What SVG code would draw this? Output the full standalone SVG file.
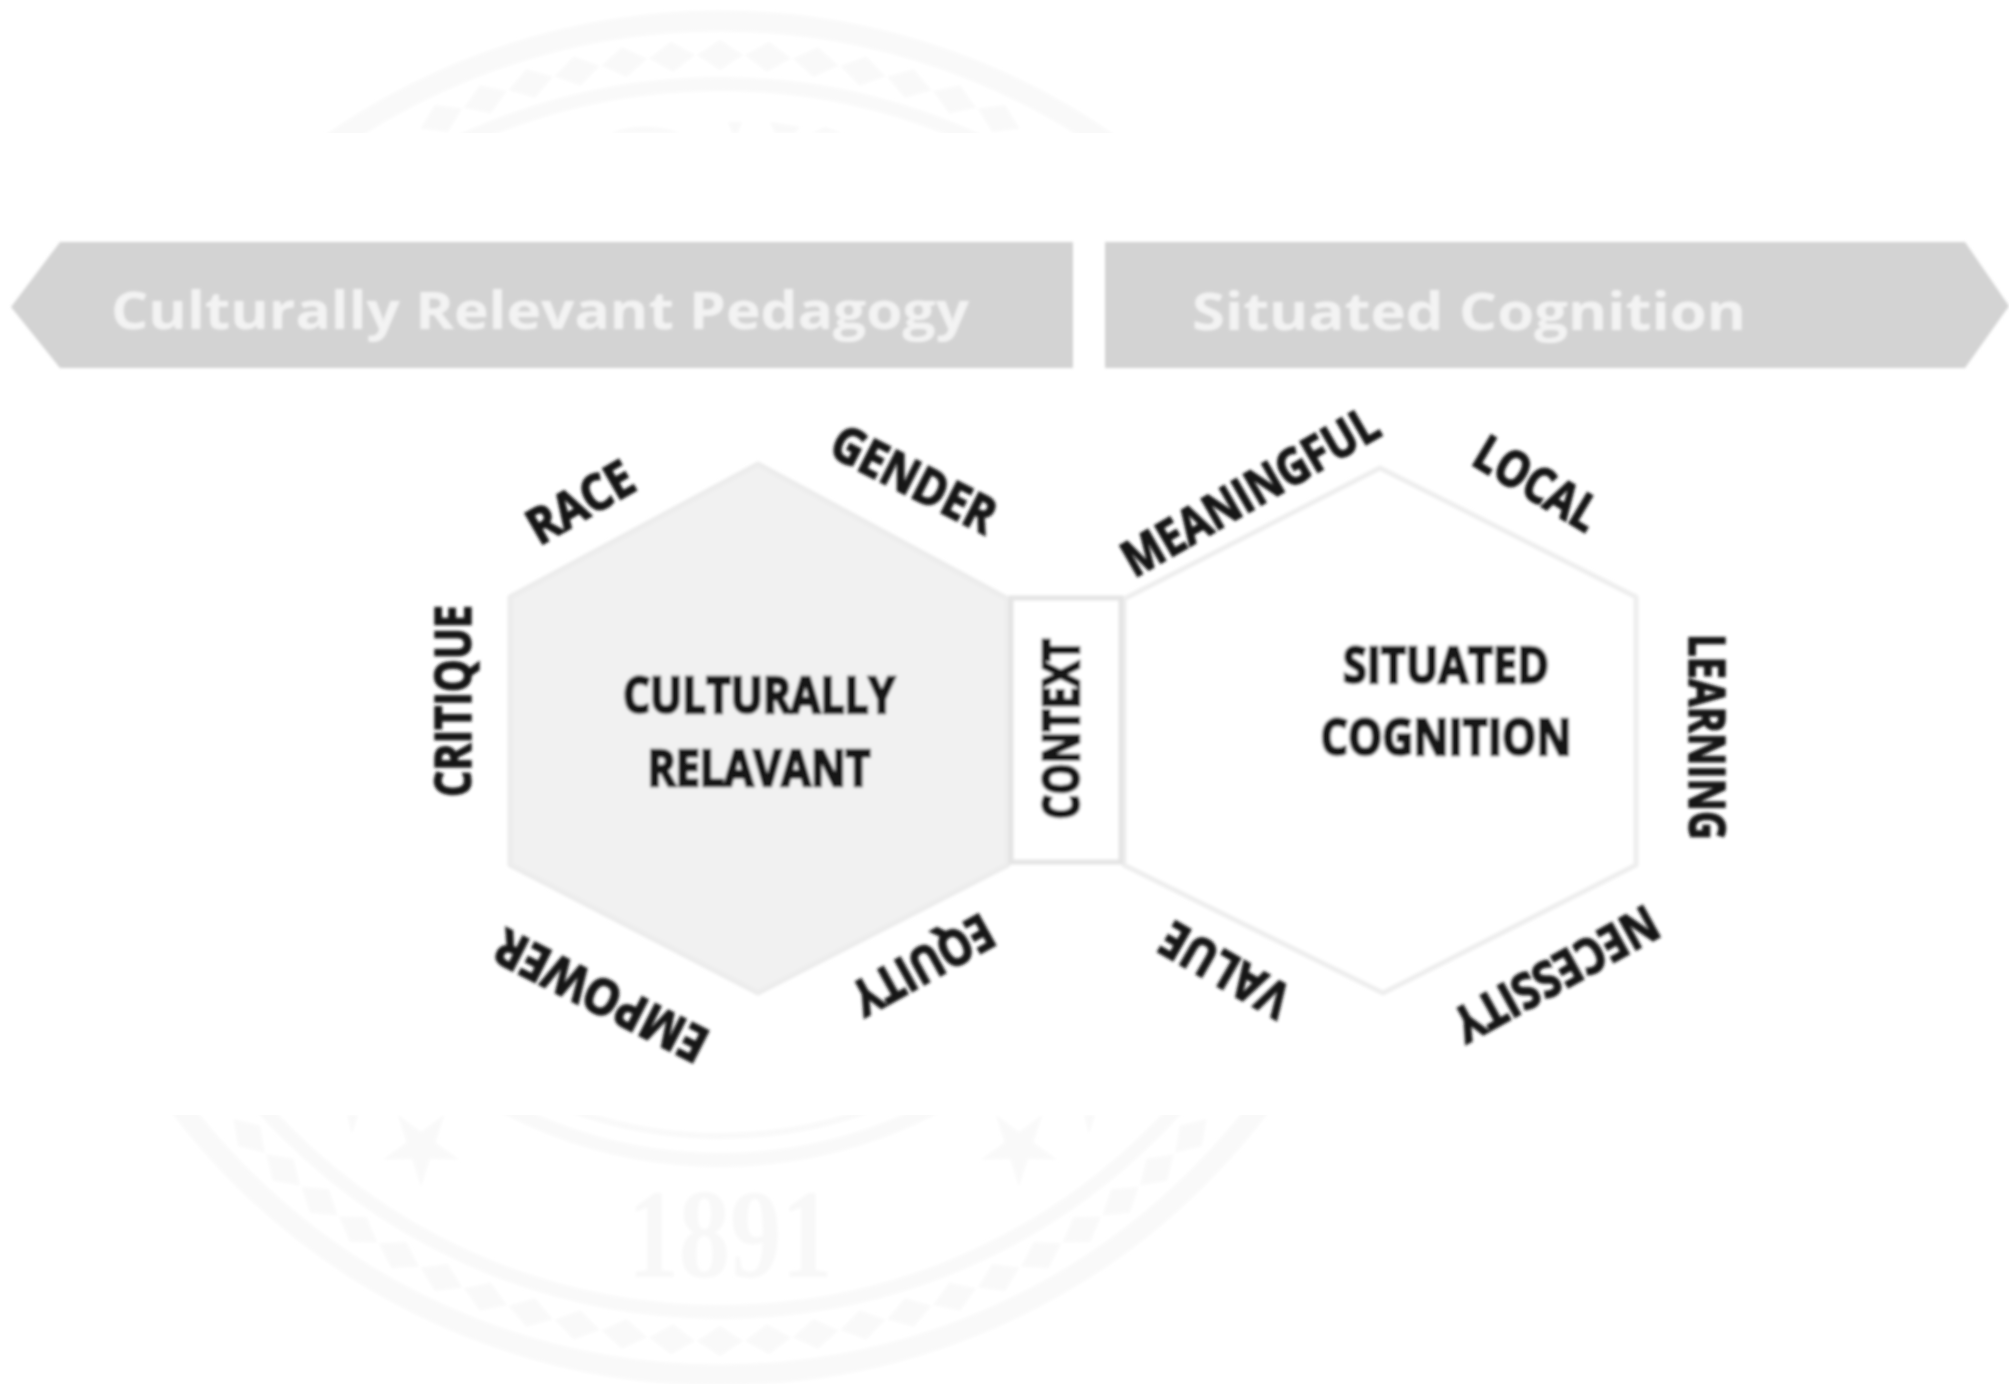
<svg xmlns="http://www.w3.org/2000/svg" xmlns:xlink="http://www.w3.org/1999/xlink" width="2009" height="1384" viewBox="0 0 2009 1384">
<style>
.lbl{font-family:"Open Sans","Liberation Sans",sans-serif;font-weight:700;font-size:50px;fill:#161616;stroke:#161616;stroke-width:1.6px;text-anchor:middle}
.hub{stroke-width:2.6px}
.ban{font-family:"Open Sans","Liberation Sans",sans-serif;font-weight:700;font-size:52px;fill:#f3f3f3}
.ring{fill:none;stroke:#f9f9f9}
.wm{fill:#f9f9f9}
</style>
<defs>
<filter id="soft" x="-10%" y="-10%" width="120%" height="120%"><feGaussianBlur stdDeviation="1.5"/></filter>
<clipPath id="bands"><rect x="0" y="0" width="2009" height="133"/><rect x="0" y="1115" width="2009" height="269"/></clipPath>
<polygon id="d" points="720,40 743,55 720,70 697,55"/>
<polygon id="star" points="0,40 8.8,12.1 38,12.4 14.3,-4.6 23.5,-32.4 0,-15 -23.5,-32.4 -14.3,-4.6 -38,12.4 -8.8,12.1"/>
</defs>
<rect width="2009" height="1384" fill="#ffffff"/>
<g id="watermark" clip-path="url(#bands)" filter="url(#soft)">
<circle class="ring" cx="720" cy="698" r="677" stroke-width="21"/>
<circle class="ring" cx="720" cy="698" r="614" stroke-width="14"/>
<circle class="ring" cx="720" cy="698" r="462" stroke-width="14"/>
<circle class="ring" cx="720" cy="698" r="438" stroke-width="6"/>
<g class="wm">
<use href="#d" transform="rotate(-25.68 720 698)"/><use href="#d" transform="rotate(-21.4 720 698)"/><use href="#d" transform="rotate(-17.12 720 698)"/><use href="#d" transform="rotate(-12.84 720 698)"/><use href="#d" transform="rotate(-8.56 720 698)"/><use href="#d" transform="rotate(-4.28 720 698)"/><use href="#d"/><use href="#d" transform="rotate(4.28 720 698)"/><use href="#d" transform="rotate(8.56 720 698)"/><use href="#d" transform="rotate(12.84 720 698)"/><use href="#d" transform="rotate(17.12 720 698)"/><use href="#d" transform="rotate(21.4 720 698)"/><use href="#d" transform="rotate(25.68 720 698)"/>
<use href="#d" transform="rotate(180 720 698)"/><use href="#d" transform="rotate(175.72 720 698)"/><use href="#d" transform="rotate(171.44 720 698)"/><use href="#d" transform="rotate(167.16 720 698)"/><use href="#d" transform="rotate(162.88 720 698)"/><use href="#d" transform="rotate(158.6 720 698)"/><use href="#d" transform="rotate(154.32 720 698)"/><use href="#d" transform="rotate(150.04 720 698)"/><use href="#d" transform="rotate(145.76 720 698)"/><use href="#d" transform="rotate(141.48 720 698)"/><use href="#d" transform="rotate(137.2 720 698)"/><use href="#d" transform="rotate(132.92 720 698)"/>
<use href="#d" transform="rotate(184.28 720 698)"/><use href="#d" transform="rotate(188.56 720 698)"/><use href="#d" transform="rotate(192.84 720 698)"/><use href="#d" transform="rotate(197.12 720 698)"/><use href="#d" transform="rotate(201.4 720 698)"/><use href="#d" transform="rotate(205.68 720 698)"/><use href="#d" transform="rotate(209.96 720 698)"/><use href="#d" transform="rotate(214.24 720 698)"/><use href="#d" transform="rotate(218.52 720 698)"/><use href="#d" transform="rotate(222.8 720 698)"/><use href="#d" transform="rotate(227.08 720 698)"/>
<use href="#star" x="421" y="1147"/><use href="#star" x="1019" y="1147"/>
<polygon points="347,1115 358,1115 352,1134"/><polygon points="1084,1115 1095,1115 1089,1134"/>
<path d="M610 133Q645 120 680 133ZM728 122L742 122L738 133L732 133ZM770 122L800 127L795 133L775 133ZM812 133L842 133L825 127Z"/>
</g>
<text x="730" y="1277" font-family="'Liberation Serif',serif" font-weight="700" font-size="128" fill="#f8f8f8" text-anchor="middle" textLength="205" lengthAdjust="spacingAndGlyphs">1891</text>
</g>
<g id="connectors"></g>
<g id="banners" filter="url(#soft)">
<g id="banner-left"><polygon points="11,307 60,242 1073,242 1073,368 60,368" fill="#d3d3d3"/><text class="ban" x="111" y="329" textLength="858" lengthAdjust="spacingAndGlyphs">Culturally Relevant Pedagogy</text></g>
<g id="banner-right"><polygon points="1105,242 1965,242 2009,306 1965,368 1105,368" fill="#d3d3d3"/><text class="ban" x="1192" y="330" textLength="554" lengthAdjust="spacingAndGlyphs">Situated Cognition</text></g>
</g>
<g filter="url(#soft)">
<g id="hex-left"><polygon points="758,464 1008,599 1008,865 758,993 510,865 510,597" fill="#f1f1f1" stroke="#ececec" stroke-width="5" stroke-linejoin="round"/>
<text class="lbl hub" x="759" y="713" textLength="272" lengthAdjust="spacingAndGlyphs">CULTURALLY</text>
<text class="lbl hub" x="759" y="786" textLength="223" lengthAdjust="spacingAndGlyphs">RELAVANT</text></g>
<g id="hex-right"><polygon points="1380,468 1636,597 1636,865 1383,993 1124,865 1124,599" fill="#ffffff" stroke="#eeeeee" stroke-width="5" stroke-linejoin="round"/>
<text class="lbl hub" x="1446" y="683" textLength="206" lengthAdjust="spacingAndGlyphs">SITUATED</text>
<text class="lbl hub" x="1446" y="755" textLength="251" lengthAdjust="spacingAndGlyphs">COGNITION</text></g>
<g id="context"><rect x="1011" y="598" width="110" height="264" fill="#ffffff" stroke="#e4e4e4" stroke-width="5"/>
<text class="lbl hub" transform="translate(1079 729) rotate(-90)" textLength="181" lengthAdjust="spacingAndGlyphs">CONTEXT</text></g>
<g id="label-critique"><text class="lbl" transform="translate(471 701) rotate(-90)" textLength="192" lengthAdjust="spacingAndGlyphs">CRITIQUE</text></g>
<g id="label-race"><text class="lbl" transform="translate(580 502) rotate(-30) translate(0 18)" textLength="115" lengthAdjust="spacingAndGlyphs">RACE</text></g>
<g id="label-gender"><text class="lbl" transform="translate(914 479) rotate(27) translate(0 18)" textLength="178" lengthAdjust="spacingAndGlyphs">GENDER</text></g>
<g id="label-meaningful"><text class="lbl" transform="translate(1250 491) rotate(-30) translate(0 18)" textLength="288" lengthAdjust="spacingAndGlyphs">MEANINGFUL</text></g>
<g id="label-local"><text class="lbl" transform="translate(1537 483) rotate(31) translate(0 18)" textLength="136" lengthAdjust="spacingAndGlyphs">LOCAL</text></g>
<g id="label-learning"><text class="lbl" transform="translate(1689 737) rotate(90)" textLength="206" lengthAdjust="spacingAndGlyphs">LEARNING</text></g>
<g id="label-necessity"><text class="lbl" transform="translate(1556 974) rotate(151) translate(0 18)" textLength="226" lengthAdjust="spacingAndGlyphs">NECESSITY</text></g>
<g id="label-value"><text class="lbl" transform="translate(1225 970) rotate(210) translate(0 18)" textLength="140" lengthAdjust="spacingAndGlyphs">VALUE</text></g>
<g id="label-equity"><text class="lbl" transform="translate(923 965) rotate(151) translate(0 18)" textLength="154" lengthAdjust="spacingAndGlyphs">EQUITY</text></g>
<g id="label-empower"><text class="lbl" transform="translate(601 996) rotate(207) translate(0 18)" textLength="232" lengthAdjust="spacingAndGlyphs">EMPOWER</text></g>
</g>
</svg>
